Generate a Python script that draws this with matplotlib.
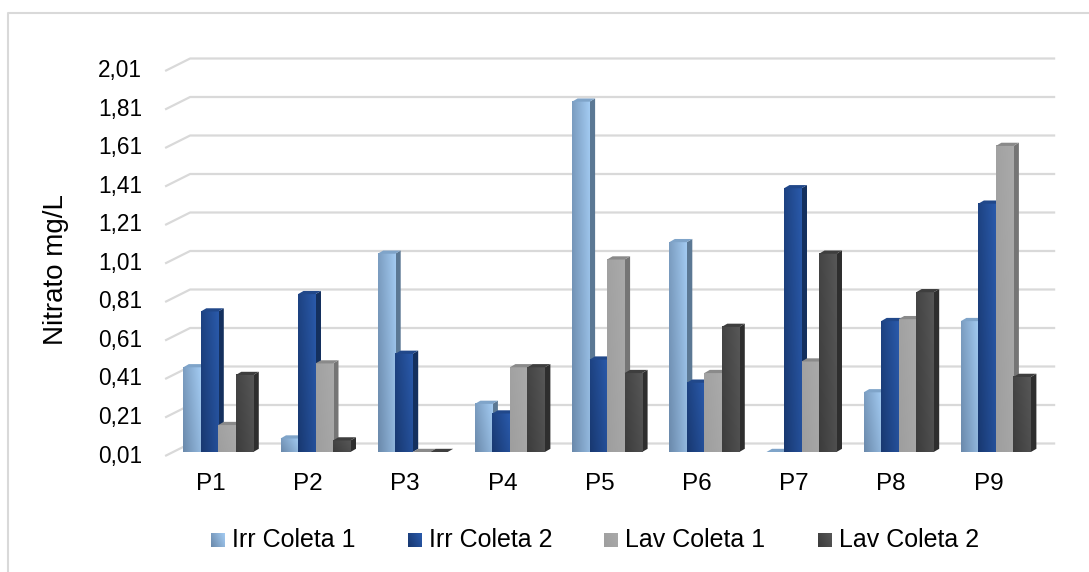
import numpy as np
import matplotlib
matplotlib.use("Agg")
import matplotlib.pyplot as plt
from matplotlib.patches import Polygon
from matplotlib.lines import Line2D

plt.rcParams["font.family"] = ["Liberation Sans", "DejaVu Sans"]

# ---- data -------------------------------------------------------------
categories = ["P1", "P2", "P3", "P4", "P5", "P6", "P7", "P8", "P9"]
series_names = ["Irr Coleta 1", "Irr Coleta 2", "Lav Coleta 1", "Lav Coleta 2"]
irr_coleta_1 = [0.45, 0.08, 1.04, 0.26, 1.83, 1.10, 0.00, 0.32, 0.69]
irr_coleta_2 = [0.74, 0.83, 0.52, 0.21, 0.49, 0.37, 1.38, 0.69, 1.30]
lav_coleta_1 = [0.15, 0.47, 0.00, 0.45, 1.01, 0.42, 0.48, 0.70, 1.60]
lav_coleta_2 = [0.41, 0.07, 0.00, 0.45, 0.42, 0.66, 1.04, 0.84, 0.40]
tick_values = [0.01, 0.21, 0.41, 0.61, 0.81, 1.01, 1.21, 1.41, 1.61, 1.81, 2.01]
tick_labels = ["0,01", "0,21", "0,41", "0,61", "0,81", "1,01",
               "1,21", "1,41", "1,61", "1,81", "2,01"]
y_title = "Nitrato mg/L"

series = [irr_coleta_1, irr_coleta_2, lav_coleta_1, lav_coleta_2]

# ---- colours (front gradient start/end, side, top) --------------------
styles = [
    dict(c0="#6a89ab", c1="#a3cbf2", side="#5b7894", top="#7fa4c9"),
    dict(c0="#183870", c1="#2a5aab", side="#14305e", top="#21488a"),
    dict(c0="#9e9e9e", c1="#aaaaaa", side="#757575", top="#8a8a8a"),
    dict(c0="#3c3c3c", c1="#575757", side="#2e2e2e", top="#3e3e3e"),
]
grid_color = "#d9d9d9"

# ---- figure / axes ----------------------------------------------------
W, H, DPI = 1089, 572, 100
fig = plt.figure(figsize=(W / DPI, H / DPI), dpi=DPI)
fig.patch.set_facecolor("white")

xmin, xmax = -0.7, 8.7
ymin, ymax = 0.01, 2.01
px_x = 97.2                 # pixels per category
px_y = 385.0 / (ymax - ymin)  # pixels per unit of value
left_px = 218.3 + xmin * px_x
ax = fig.add_axes([left_px / W, (H - 452) / H, (xmax - xmin) * px_x / W, 385 / H])
ax.set_xlim(xmin, xmax)
ax.set_ylim(ymin, ymax)
ax.axis("off")


def off(dx_px, dy_px):
    """Convert a pixel offset into data units."""
    return dx_px / px_x, dy_px / px_y


# front edge and back wall of the box, relative to the bar plane
fdx, fdy = off(-7.5, -4.0)
bdx, bdy = off(17.5, 8.5)
x_wall_left, x_wall_right = -0.47, 8.43

for v in tick_values:
    ax.plot([x_wall_left + fdx, x_wall_left + bdx, x_wall_right + bdx],
            [v + fdy, v + bdy, v + bdy],
            color=grid_color, lw=1.6, zorder=1, clip_on=False,
            solid_capstyle="butt")

lab_dx, _ = off(-23, 0)
for v, lab in zip(tick_values, tick_labels):
    ax.text(x_wall_left + fdx + lab_dx, v + fdy, lab, ha="right",
            va="center", fontsize=16.3, color="#000000")

_, cat_dy = off(0, -28)
for i, cat in enumerate(categories):
    ax.text(i + fdx, ymin + fdy + cat_dy, cat, ha="center", va="center",
            fontsize=17.5, color="#000000")


def gradient(c0, c1, n=48):
    a = np.array(matplotlib.colors.to_rgb(c0))
    b = np.array(matplotlib.colors.to_rgb(c1))
    u = np.linspace(0, 1, n)[None, :]
    v = np.linspace(0, 1, n)[:, None]
    t = np.clip(0.7 * u + 0.3 * v, 0, 1)[..., None]
    return a + (b - a) * t


# ---- 3-D looking bars -------------------------------------------------
bar_w = 0.18
ddx, ddy = off(5.5, 3.2)
for i in range(len(categories)):
    for s, vals in enumerate(series):
        st = styles[s]
        x0 = i - 2 * bar_w + s * bar_w
        x1 = x0 + bar_w
        y0 = ymin
        y1 = max(vals[i], ymin)
        z = 3 + s * 0.01
        if y1 > y0:
            ax.imshow(gradient(st["c0"], st["c1"]), extent=[x0, x1, y0, y1],
                      origin="lower", aspect="auto", interpolation="bilinear",
                      zorder=z, clip_on=False)
        ax.add_patch(Polygon([(x1, y0), (x1, y1), (x1 + ddx, y1 + ddy),
                              (x1 + ddx, y0 + ddy)], closed=True,
                             facecolor=st["side"], edgecolor="none",
                             zorder=z - 0.001, clip_on=False))
        ax.add_patch(Polygon([(x0, y1), (x1, y1), (x1 + ddx, y1 + ddy),
                              (x0 + ddx, y1 + ddy)], closed=True,
                             facecolor=st["top"], edgecolor="none",
                             zorder=z + 0.001, clip_on=False))

ax.set_xlim(xmin, xmax)
ax.set_ylim(ymin, ymax)

# ---- axis title -------------------------------------------------------
fig.text(56 / W, 1 - 270 / H, y_title, rotation=90, ha="center",
         va="center", fontsize=20, color="#000000")

# ---- legend -----------------------------------------------------------
key_x = [211, 408, 604, 818]
for name, st, kx in zip(series_names, styles, key_x):
    kax = fig.add_axes([kx / W, 1 - 547 / H, 14 / W, 14 / H])
    kax.imshow(gradient(st["c0"], st["c1"], 16), origin="lower",
               aspect="auto", interpolation="bilinear")
    kax.axis("off")
    fig.text((kx + 21) / W, 1 - 540 / H, name, ha="left", va="center",
             fontsize=18, color="#000000")

# ---- chart area border (top and left edges) ---------------------------
fig.add_artist(Line2D([8 / W, 8 / W, 1.0], [0.0, 1 - 13 / H, 1 - 13 / H],
                      transform=fig.transFigure, color=grid_color, lw=1.5))

fig.savefig("out.png", dpi=DPI)
